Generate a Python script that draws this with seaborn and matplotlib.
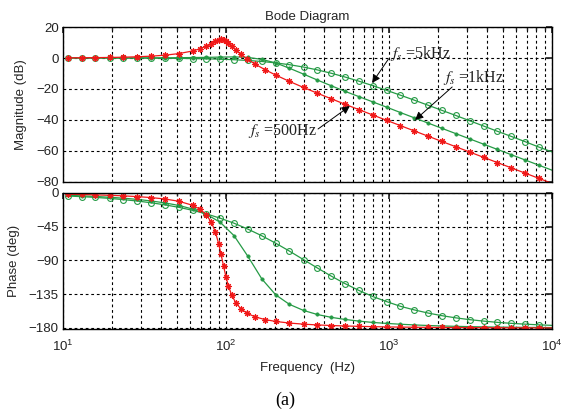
import matplotlib
matplotlib.use("Agg")
import matplotlib.pyplot as plt
import seaborn as sns
import pandas as pd
from matplotlib.ticker import FixedLocator, FixedFormatter, LogLocator, NullFormatter

# ---- data: frequency response of the three filter designs ----
# shared frequency points (Hz) for the 1 kHz and 5 kHz designs
freq_uniform = [10.7, 13.0, 15.8, 19.3, 23.4, 28.5, 34.7, 42.2, 51.3, 62.4,
                75.9, 92.3, 112, 136, 166, 202, 245, 299, 363, 442,
                537, 653, 794, 966, 1175, 1429, 1738, 2113, 2570, 3126,
                3802, 4624, 5623, 6839, 8318, 10000]

# 500 Hz design, denser around its resonance
freq_500 = [10.7, 13.0, 15.8, 19.3, 23.4, 28.5, 34.7, 42.2, 51.3, 62.4,
            69.2, 75.9, 81.3, 86.1, 90.2, 93.3, 96.6, 100, 103.5, 108.4,
            114.8, 123, 134.9, 151.4, 173.8, 202, 245, 299, 363, 442,
            537, 653, 794, 966, 1175, 1429, 1738, 2113, 2570, 3126,
            3802, 4624, 5623, 6839, 8318, 10000]
mag_500 = [0.11, 0.16, 0.24, 0.35, 0.52, 0.79, 1.19, 1.82, 2.83, 4.54,
           5.94, 7.65, 9.25, 10.71, 11.68, 11.97, 11.68, 10.80, 9.53, 7.56,
           5.14, 2.48, -0.66, -4.04, -7.58, -11.03, -15.10, -19.03, -22.69, -26.31,
           -29.83, -33.31, -36.76, -40.21, -43.64, -47.05, -50.47, -53.87, -57.28, -60.68,
           -64.09, -67.49, -70.89, -74.29, -77.69, -80.89]
phase_500 = [-1.7, -2.0, -2.5, -3.1, -3.8, -4.8, -6.1, -8.0, -11.0, -16.4,
             -21.5, -29.3, -39.1, -52.2, -67.8, -81.9, -97.5, -112.0, -124.1, -136.2,
             -146.3, -154.1, -160.5, -165.3, -168.8, -171.3, -173.4, -174.9, -175.9, -176.7,
             -177.3, -177.8, -178.2, -178.6, -178.8, -179.0, -179.1, -179.3, -179.4, -179.5,
             -179.6, -179.7, -179.75, -179.8, -179.83, -179.86]

mag_1k = [0.0, 0.0, 0.0, 0.0, 0.0, 0.05, 0.1, 0.1, 0.2, 0.3,
          0.4, 0.6, 0.7, 0.4, -0.9, -3.2, -6.6, -10.4, -14.2, -17.9,
          -21.5, -24.9, -28.3, -31.7, -35.2, -38.6, -42.0, -45.4, -48.8, -52.2,
          -55.6, -59.0, -62.4, -65.8, -69.2, -72.4]
phase_1k = [-3.1, -3.8, -4.6, -5.7, -6.9, -8.5, -10.6, -13.2, -16.6, -21.4,
            -28.4, -39.2, -56.9, -84.2, -114.7, -135.9, -148.5, -156.6, -162.0, -165.8,
            -168.6, -170.8, -172.6, -173.9, -175.0, -175.9, -176.7, -177.3, -177.8, -178.2,
            -178.5, -178.8, -179.0, -179.2, -179.3, -179.4]

mag_5k = [-0.01, -0.02, -0.02, -0.03, -0.05, -0.08, -0.11, -0.16, -0.24, -0.36,
          -0.52, -0.76, -1.10, -1.58, -2.25, -3.16, -4.32, -5.85, -7.66, -9.83,
          -12.26, -14.94, -17.82, -20.85, -24.0, -27.2, -30.5, -33.8, -37.1, -40.5,
          -43.9, -47.3, -50.6, -54.0, -57.5, -60.6]
phase_5k = [-4.0, -4.9, -5.9, -7.2, -8.8, -10.7, -13.0, -15.8, -19.1, -23.1,
            -27.9, -33.7, -40.3, -48.1, -57.1, -67.0, -77.5, -88.9, -99.9, -110.8,
            -120.8, -129.9, -138.0, -144.8, -151.1, -155.9, -160.1, -163.6, -166.5, -168.9,
            -170.8, -172.5, -173.8, -174.9, -175.8, -176.5]

mag_ticks = [20, 0, -20, -40, -60, -80]
phase_ticks = [0, -45, -90, -135, -180]
freq_ticks = [10, 100, 1000, 10000]
freq_tick_labels = [r"$\mathdefault{10^{1}}$", r"$\mathdefault{10^{2}}$",
                    r"$\mathdefault{10^{3}}$", r"$\mathdefault{10^{4}}$"]

df_500 = pd.DataFrame({"f": freq_500, "mag": mag_500, "phase": phase_500})
df_1k = pd.DataFrame({"f": freq_uniform, "mag": mag_1k, "phase": phase_1k})
df_5k = pd.DataFrame({"f": freq_uniform, "mag": mag_5k, "phase": phase_5k})

# ---- style ----
sns.set_theme(style="white")
plt.rcParams["font.family"] = ["Liberation Sans", "DejaVu Sans"]
plt.rcParams["mathtext.fontset"] = "stix"

RED = "#f01818"
GREEN = "#259a45"
grid_kw = dict(color="black", linestyle=(0, (2.5, 2.5)), linewidth=0.8)

fig = plt.figure(figsize=(5.7, 4.2), dpi=100)
fig.patch.set_facecolor("white")
ax_mag = fig.add_axes([0.1105, 0.5667, 0.858, 0.369])
ax_ph = fig.add_axes([0.1105, 0.2155, 0.858, 0.3250])


def draw(ax, col):
    sns.lineplot(data=df_5k, x="f", y=col, ax=ax, color=GREEN, lw=0.9,
                 marker="o", ms=4.2, mfc="none", mec=GREEN, mew=0.8,
                 markevery=slice(0, -1), sort=False)
    sns.lineplot(data=df_1k, x="f", y=col, ax=ax, color=GREEN, lw=0.9,
                 marker="o", ms=2.4, mfc=GREEN, mec=GREEN, mew=0.5,
                 markevery=slice(0, -1), sort=False)
    sns.lineplot(data=df_500, x="f", y=col, ax=ax, color=RED, lw=0.9,
                 marker=(8, 2, 0), ms=4.6, mec=RED, mew=0.8,
                 markevery=slice(0, -1), sort=False)


draw(ax_mag, "mag")
draw(ax_ph, "phase")

for ax in (ax_mag, ax_ph):
    ax.set_xscale("log")
    ax.set_xlim(10, 10000)
    ax.xaxis.set_major_locator(FixedLocator(freq_ticks))
    ax.xaxis.set_minor_locator(LogLocator(base=10, subs=range(2, 10)))
    ax.xaxis.set_minor_formatter(NullFormatter())
    ax.grid(True, which="major", axis="both", **grid_kw)
    ax.grid(True, which="minor", axis="x", **grid_kw)
    ax.tick_params(which="both", direction="in", top=True, right=True,
                   labelsize=9.5, labelcolor="#222222", pad=3)
    ax.tick_params(which="major", length=4)
    ax.tick_params(which="minor", length=2)
    for sp in ax.spines.values():
        sp.set_color("black")
        sp.set_linewidth(1.0)
    ax.set_xlabel("")

ax_mag.set_ylim(-80, 20)
ax_mag.yaxis.set_major_locator(FixedLocator(mag_ticks))
ax_mag.xaxis.set_major_formatter(NullFormatter())
ax_mag.set_ylabel("Magnitude (dB)", fontsize=9.5)
ax_mag.yaxis.set_label_coords(-0.074, 0.5)
ax_mag.set_title("Bode Diagram", fontsize=9.5, pad=5)

ax_ph.set_ylim(-182, 0)
ax_ph.yaxis.set_major_locator(FixedLocator(phase_ticks))
ax_ph.xaxis.set_major_formatter(FixedFormatter(freq_tick_labels))
ax_ph.tick_params(axis="x", pad=7)
ax_ph.set_ylabel("Phase (deg)", fontsize=9.5)
ax_ph.yaxis.set_label_coords(-0.088, 0.5)

# ---- annotations on the magnitude plot ----
ann_font = dict(fontsize=11.5, family=["Liberation Serif", "DejaVu Serif"], color="#222222")
arrow_kw = dict(arrowstyle="-|>", color="black", lw=0.7, mutation_scale=12, shrinkA=0, shrinkB=0)

ax_mag.text(1014, 3.2, r"$f_s$ =5kHz", va="center", ha="left", **ann_font)
ax_mag.annotate("", xy=(787, -16.1), xytext=(990, -0.8), arrowprops=arrow_kw)

ax_mag.text(2140, -12.9, r"$f_s$ =1kHz", va="center", ha="left", **ann_font)
ax_mag.annotate("", xy=(1445, -40.0), xytext=(2440, -18.7), arrowprops=arrow_kw)

ax_mag.text(136, -47.0, r"$f_s$ =500Hz", va="center", ha="left", **ann_font)
ax_mag.annotate("", xy=(575, -31.0), xytext=(367, -45.8), arrowprops=arrow_kw)

fig.text(307 / 570, 1 - 368 / 420, "Frequency  (Hz)", ha="center", va="center",
         fontsize=9.5, color="#222222")
fig.text(285 / 570, 1 - 400 / 420, "(a)", ha="center", va="center",
         fontsize=13, family=["Liberation Serif", "DejaVu Serif"], color="black")

fig.savefig("out.png", dpi=100, facecolor="white")
